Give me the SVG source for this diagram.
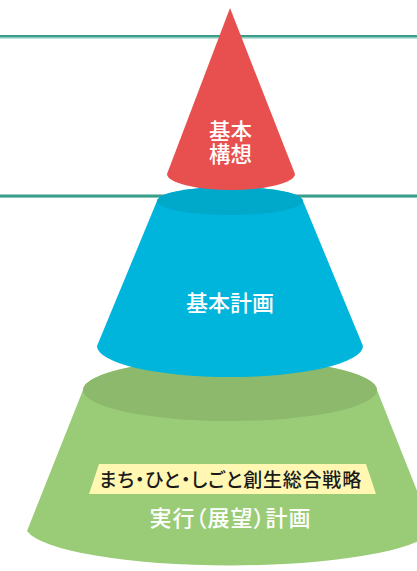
<svg xmlns="http://www.w3.org/2000/svg" width="417" height="571" viewBox="0 0 417 571">
<style>
.lbl{font-family:"Noto Sans CJK JP","Noto Sans",sans-serif;text-anchor:middle;fill:#ffffff;font-weight:500;}
.dark{font-family:"Noto Sans CJK JP","Noto Sans",sans-serif;text-anchor:middle;fill:#1a1a1a;font-weight:500;font-feature-settings:"palt";}
.palt{font-feature-settings:"palt";}
.rule{fill:#3a9e8c;}
.rule2{fill:#86c7b9;}
</style>
<rect width="417" height="571" fill="#ffffff"/>
<g id="lines">
<rect class="rule" x="0" y="35" width="417" height="2.5"/>
<rect class="rule2" x="0" y="37.5" width="417" height="1"/>
<rect class="rule" x="0" y="194.5" width="417" height="2.5"/>
<rect class="rule2" x="0" y="197" width="417" height="1"/>
</g>
<g id="execution-plan">
<path d="M83,390 L27,531 A205,40 0 0 0 433,531 L377,390 A147,31 0 0 0 83,390 Z" fill="#9acc78"/>
<ellipse cx="230" cy="390" rx="147" ry="31" fill="#8cb96c"/>
<path d="M99,464 L366,464 L376,494 L89,494 Z" fill="#fff7b2"/>
<text class="dark" x="230.5" y="487" font-size="19" letter-spacing="0.8">まち・ひと・しごと創生総合戦略</text>
<text class="lbl palt" x="230.5" y="526" font-size="22" letter-spacing="1">実行（展望）計画</text>
</g>
<g id="basic-plan">
<path d="M157,201 L97,346 A133,31 0 0 0 363,346 L303,201 A73,14 0 0 0 157,201 Z" fill="#00b5dc"/>
<ellipse cx="230" cy="201" rx="73" ry="14" fill="#00a8ca"/>
<text class="lbl" x="230" y="311" font-size="22">基本計画</text>
</g>
<g id="basic-concept">
<path d="M230,8 L167,174 A64,16 0 0 0 295,174 Z" fill="#e85050"/>
<text class="lbl" x="230.5" y="138.5" font-size="21.5">基本</text>
<text class="lbl" x="230.5" y="162" font-size="21.5">構想</text>
</g>
</svg>
